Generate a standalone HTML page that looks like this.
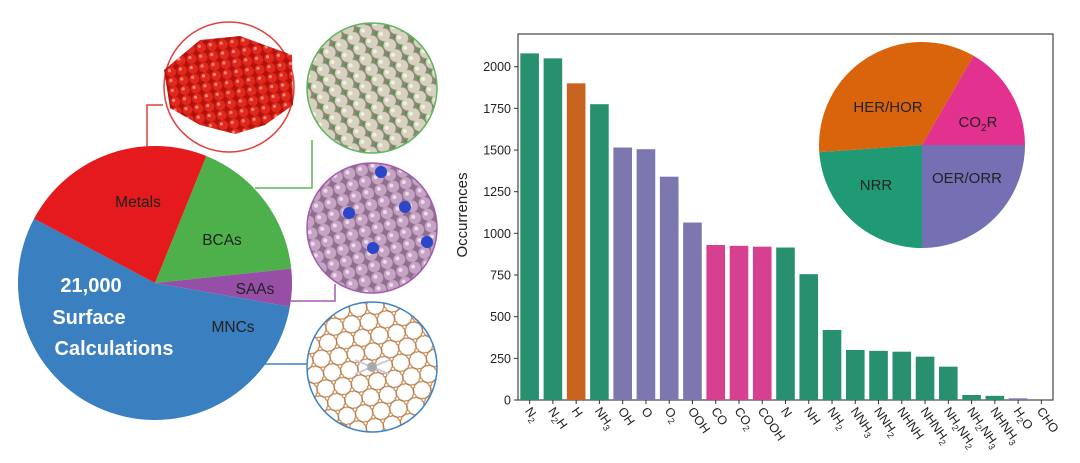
<!DOCTYPE html>
<html><head><meta charset="utf-8"><style>
html,body{margin:0;padding:0;background:#fff;}
svg{display:block;font-family:"Liberation Sans",sans-serif;}
</style></head><body>
<svg id="fig" width="1080" height="463" viewBox="0 0 1080 463" xmlns="http://www.w3.org/2000/svg">
<defs>
  <pattern id="redBalls" width="11" height="10" patternUnits="userSpaceOnUse" patternTransform="rotate(-8)">
    <rect width="11" height="10" fill="#b3120c"/>
    <circle cx="5.5" cy="5" r="5" fill="#e1281c"/><circle cx="4" cy="3.5" r="1.6" fill="#f58a7e"/>
  </pattern>
  <pattern id="greyBalls" width="14" height="12" patternUnits="userSpaceOnUse" patternTransform="rotate(-30)">
    <rect width="14" height="12" fill="#8a8676"/>
    <circle cx="7" cy="6" r="6.3" fill="#d7d2bf"/><circle cx="5" cy="4" r="2" fill="#f3f0e4"/>
    <circle cx="0" cy="0" r="2.6" fill="#33a52e"/>
  </pattern>
  <pattern id="pinkBalls" width="13" height="12" patternUnits="userSpaceOnUse" patternTransform="rotate(-15)">
    <rect width="13" height="12" fill="#8f6f8e"/>
    <circle cx="6.5" cy="6" r="6" fill="#c6a3c4"/><circle cx="5" cy="4.5" r="2" fill="#ecdcec"/>
  </pattern>
  <pattern id="hexes" width="17.32" height="30" patternUnits="userSpaceOnUse" patternTransform="rotate(-8)">
    <rect width="17.32" height="30" fill="#fff"/>
    <path d="M0 5 L8.66 0 L17.32 5 M0 5 V15 M17.32 5 V15 M0 15 L8.66 20 L17.32 15 M8.66 20 V30" fill="none" stroke="#b27a4a" stroke-width="1.5"/>
    <g fill="#fff" stroke="#c98a52" stroke-width="1.2">
    <circle cx="8.66" cy="0" r="1.8"/><circle cx="0" cy="5" r="1.8"/><circle cx="17.32" cy="5" r="1.8"/>
    <circle cx="0" cy="15" r="1.8"/><circle cx="17.32" cy="15" r="1.8"/><circle cx="8.66" cy="20" r="1.8"/><circle cx="8.66" cy="30" r="1.8"/>
    </g>
  </pattern>
</defs>

<g fill="none" stroke-width="1.5">
  <path d="M147 160 V105 H163" stroke="#e0413a"/>
  <path d="M255 188 H312 V140" stroke="#5fb55a"/>
  <path d="M291 301 H335 V284" stroke="#a35bb0"/>
  <path d="M265 364 H307" stroke="#3c82c4"/>
</g>

<g>
  <circle cx="229" cy="87" r="65" fill="#fff" stroke="#e0413a" stroke-width="1.5"/>
  <path d="M164 70 L200 40 L240 36 L292 55 L293 105 L265 125 L235 134 L200 125 L170 108 Z" fill="url(#redBalls)"/>
</g>
<g>
  <circle cx="372" cy="88" r="65" fill="url(#greyBalls)" stroke="#5fb55a" stroke-width="1.5"/>
</g>
<g>
  <circle cx="372" cy="228" r="65" fill="url(#pinkBalls)" stroke="#a35bb0" stroke-width="1.5"/>
  <circle cx="381" cy="172" r="6" fill="#2b46c8"/><circle cx="349" cy="213" r="6" fill="#2b46c8"/>
  <circle cx="405" cy="207" r="6" fill="#2b46c8"/><circle cx="373" cy="248" r="6" fill="#2b46c8"/>
  <circle cx="427" cy="242" r="6" fill="#2b46c8"/>
</g>
<g>
  <circle cx="372" cy="367" r="65" fill="url(#hexes)" stroke="#3c82c4" stroke-width="1.5"/>
  <path d="M355 360 L389 374 M355 374 L389 360" stroke="#c9c9dd" stroke-width="2"/>
  <circle cx="372" cy="367" r="5" fill="#aaa"/>
</g>

<g id="bigpie"></g>

<g id="bars"></g>
<text transform="translate(467,215) rotate(-90)" text-anchor="middle" font-size="15" fill="#222">Occurrences</text>

<g id="smallpie"></g>
</svg>
<script>
const NS="http://www.w3.org/2000/svg";
function mk(tag,attrs,parent){const e=document.createElementNS(NS,tag);for(const k in attrs)e.setAttribute(k,attrs[k]);parent.appendChild(e);return e;}

const categories=["N2","N2H","H","NH3","OH","O","O2","OOH","CO","CO2","COOH","N","NH","NH2","NNH3","NNH2","NHNH","NHNH2","NH2NH2","NH2NH3","NHNH3","H2O","CHO"];
const labelHtml=["N<tspan font-size='9' dy='3'>2</tspan>","N<tspan font-size='9' dy='3'>2</tspan><tspan dy='-3'>H</tspan>","H","NH<tspan font-size='9' dy='3'>3</tspan>","OH","O","O<tspan font-size='9' dy='3'>2</tspan>","OOH","CO","CO<tspan font-size='9' dy='3'>2</tspan>","COOH","N","NH","NH<tspan font-size='9' dy='3'>2</tspan>","NNH<tspan font-size='9' dy='3'>3</tspan>","NNH<tspan font-size='9' dy='3'>2</tspan>","NHNH","NHNH<tspan font-size='9' dy='3'>2</tspan>","NH<tspan font-size='9' dy='3'>2</tspan><tspan dy='-3'>NH</tspan><tspan font-size='9' dy='3'>2</tspan>","NH<tspan font-size='9' dy='3'>2</tspan><tspan dy='-3'>NH</tspan><tspan font-size='9' dy='3'>3</tspan>","NHNH<tspan font-size='9' dy='3'>3</tspan>","H<tspan font-size='9' dy='3'>2</tspan><tspan dy='-3'>O</tspan>","CHO"];
const counts=[2080,2050,1900,1775,1515,1505,1340,1065,930,925,920,915,755,420,300,295,290,260,200,30,25,10,0];
const groups=["NRR","NRR","HER","NRR","OER","OER","OER","OER","CO2R","CO2R","CO2R","NRR","NRR","NRR","NRR","NRR","NRR","NRR","NRR","NRR","NRR","OER","CO2R"];
const yTicks=[0,250,500,750,1000,1250,1500,1750,2000];
const groupColor={NRR:"#28906f",HER:"#c8641f",OER:"#7c77ae",CO2R:"#d6408e"};

const X0=518,X1=1053,Y0=400,YT=34;
const yScale=v=>Y0-v*(333.3/2000);
const bw=(X1-X0)/categories.length;
const xScale=i=>X0+bw*(i+0.5);
const g=document.getElementById('bars');
const frame=mk('rect',{x:X0,y:YT,width:X1-X0,height:Y0-YT,fill:"none",stroke:"#444","stroke-width":1.2},g);


counts.forEach((v,i)=>{
  const r=mk('rect',{x:xScale(i)-bw*0.4,y:yScale(v),width:bw*0.8,height:Y0-yScale(v),fill:groupColor[groups[i]]},g);
  
  
  const t=mk('line',{x1:xScale(i),x2:xScale(i),y1:Y0,y2:Y0+4,stroke:"#333"},g);
  
  
  const lx=xScale(i)-5, ly=Y0+11;
  const tx=mk('text',{x:0,y:0,transform:`translate(${lx},${ly}) rotate(55)`,"font-size":12.5,fill:"#222"},g);
  tx.innerHTML=labelHtml[i];
  
  
});
yTicks.forEach(v=>{
  const l=mk('line',{x1:X0-4,x2:X0,y1:yScale(v),y2:yScale(v),stroke:"#333"},g);
  
  
  const t=mk('text',{x:X0-7,y:yScale(v)+4.5,"text-anchor":"end","font-size":12.5,fill:"#222"},g);
  t.textContent=v;
  
  
});

function sector(parent,cx,cy,r,a0,a1,fill){
  const p=a=>[cx+r*Math.sin(a*Math.PI/180),cy-r*Math.cos(a*Math.PI/180)];
  const [x0,y0]=p(a0),[x1,y1]=p(a1);
  return mk('path',{d:`M${cx} ${cy} L${x0} ${y0} A${r} ${r} 0 ${a1-a0>180?1:0} 1 ${x1} ${y1} Z`,fill:fill},parent);
}
const bigNames=["BCAs","SAAs","MNCs","Metals"];
const bigShares=[62,16,198,84];
const bigColors=["#4db04a","#974ea6","#3a7fc0","#e41a1c"];
const bp=document.getElementById('bigpie');
let a=22;
bigShares.forEach((s,i)=>{
  const e=sector(bp,155,283,137,a,a+s,bigColors[i]);
  
  
  a+=s;
});
const bigLabels=[["Metals",138,207,"#222",15.5],["BCAs",222,245,"#222",15.5],["SAAs",255,294,"#222",15.5],["MNCs",233,332,"#222",15.5]];
bigLabels.forEach(L=>{
  const t=mk('text',{x:L[1],y:L[2],"text-anchor":"middle","font-size":L[4],fill:L[3]},bp);
  t.textContent=L[0];
  
  
});
[["21,000",91,292],["Surface",89,324],["Calculations",114,355]].forEach(L=>{
  const t=mk('text',{x:L[1],y:L[2],"text-anchor":"middle","font-size":20,"font-weight":"bold",fill:"#fff"},bp);
  t.textContent=L[0];
  
  
});

const smallNames=["CO2R","OER/ORR","NRR","HER/HOR"];
const smallShares=[60,90,86,124];
const smallColors=["#e3318f","#7570b3","#1f9a74","#d9640b"];
const sp=document.getElementById('smallpie');
a=30;
smallShares.forEach((s,i)=>{
  const e=sector(sp,922,145,103,a,a+s,smallColors[i]);
  
  
  a+=s;
});
const sl=[["HER/HOR",888,112],["CO<tspan font-size='10' dy='4'>2</tspan><tspan dy='-4'>R</tspan>",978,127],["OER/ORR",967,183],["NRR",876,190]];
sl.forEach(L=>{
  const t=mk('text',{x:L[1],y:L[2],"text-anchor":"middle","font-size":15,fill:"#222"},sp);
  t.innerHTML=L[0];
  
  
});
</script>
</body></html>
